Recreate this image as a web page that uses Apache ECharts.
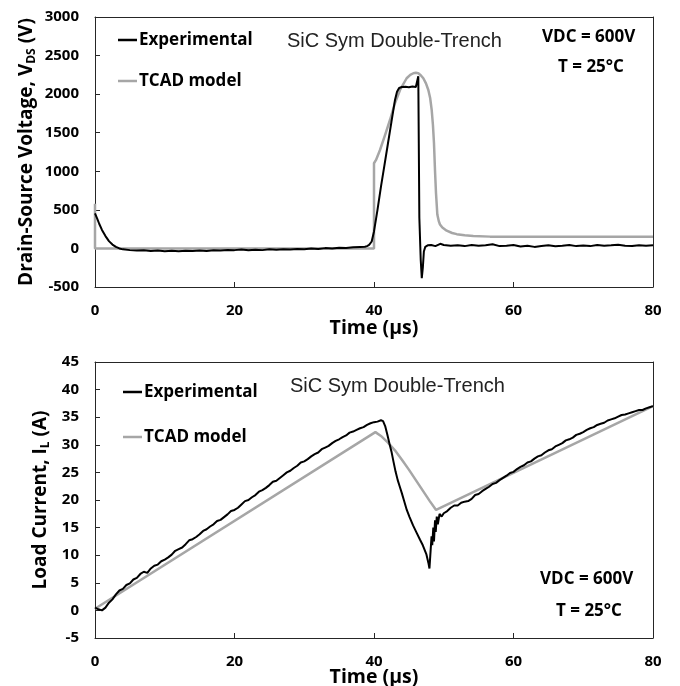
<!DOCTYPE html>
<html><head><meta charset="utf-8">
<script src="https://cdn.jsdelivr.net/npm/echarts@6/dist/echarts.min.js"></script>
<style>html,body{margin:0;padding:0;background:#fff}#c{width:680px;height:686px}</style>
</head><body><div id="c"></div>
<script>
// ---- data (time in µs) ----
const xTickStep = 20;
const vdsTicks = { min: -500, max: 3000, step: 500 };
const ilTicks = { min: -5, max: 45, step: 5 };

const vdsExperimental = [[0,455],[0.3,390],[0.6,320],[1,240],[1.5,160],[2,95],[2.5,50],[3,20],[3.5,0],[4,-12],[5,-22],[6,-28],[7,-25],[8,-32],[9,-28],[10,-35],[11,-30],[12,-38],[13,-30],[14,-34],[15,-26],[16,-32],[17,-24],[18,-28],[19,-20],[20,-22],[21,-15],[22,-25],[23,-18],[24,-22],[25,-12],[26,-18],[27,-10],[28,-15],[29,-6],[30,-12],[31,-2],[32,-8],[33,4],[34,0],[35,8],[36,6],[37,14],[38,20],[38.7,22],[39,30],[39.3,45],[39.67,90],[40,220],[40.5,500],[41,800],[41.5,1080],[42,1360],[42.5,1640],[43,1920],[43.3,2030],[43.6,2080],[44,2092],[44.5,2095],[45,2090],[45.5,2098],[46,2093],[46.2,2110],[46.35,2232],[46.5,400],[46.7,-150],[46.85,-385],[47,-250],[47.15,-40],[47.35,20],[47.7,40],[48.2,45],[48.8,30],[49.5,60],[50,45],[51,35],[52,40],[53,30],[54,45],[55,35],[56,40],[57,55],[58,30],[59,35],[60,45],[61,25],[62,35],[63,20],[64,30],[65,40],[66,28],[67,35],[68,45],[69,30],[70,38],[71,30],[72,45],[73,35],[74,40],[75,48],[76,35],[77,30],[78,42],[79,35],[80,40]];

const vdsTcad = [[0,580],[0,0],[40,0],[40,1104],[40.29,1147],[40.86,1276],[41.58,1470],[42.29,1665],[43,1882],[43.73,2054],[44.68,2206],[45.2,2250],[45.64,2271],[46,2276],[46.35,2271],[46.7,2245],[47.07,2206],[47.45,2140],[47.79,2054],[48.05,1950],[48.27,1795],[48.45,1600],[48.6,1363],[48.75,1000],[48.89,715],[49.08,440],[49.3,350],[49.46,310],[49.8,270],[50.42,230],[51.2,200],[51.86,185],[53,170],[54.24,161],[56.63,153],[60,150],[70,150],[80,150]];

const ilExperimental = [[0,0.5],[0.5,0.2],[1,0],[1.5,0.5],[2,1.4],[2.5,2],[3,2.9],[3.5,3.6],[4,3.9],[4.5,4.6],[5,4.9],[5.5,5.6],[6,5.9],[6.5,6.6],[7,7],[7.5,6.8],[8,7.6],[8.5,8.1],[9,8.3],[9.5,8.9],[10,9.2],[10.5,9.6],[11,10.1],[11.5,10.8],[12,11.1],[12.5,11.4],[13,12],[13.5,12.7],[14,12.9],[14.5,13.3],[15,13.8],[15.5,14.4],[16,14.7],[16.5,15.2],[17,15.6],[17.5,16.2],[18,16.4],[18.5,16.9],[19,17.4],[19.5,18],[20,18.2],[20.5,18.6],[21,19.2],[21.5,19.8],[22,20],[22.5,20.5],[23,20.9],[23.5,21.5],[24,21.8],[24.5,22.2],[25,22.7],[25.5,23.3],[26,23.5],[26.5,24],[27,24.5],[27.5,25],[28,25.3],[28.5,25.8],[29,26.2],[29.5,26.8],[30,27],[30.5,27.4],[31,27.9],[31.5,28.3],[32,28.6],[32.5,29.2],[33,29.5],[33.5,29.8],[34,30.3],[34.5,30.7],[35,31],[35.5,31.4],[36,31.7],[36.5,32.2],[37,32.4],[37.5,32.7],[38,33],[38.5,33.2],[39,33.6],[39.5,33.9],[40,34.1],[40.5,34.2],[41,34.45],[41.3,34.3],[41.6,33.4],[41.9,31.9],[42.2,30.3],[42.5,28.8],[42.8,26.9],[43.1,25.1],[43.4,23.6],[43.7,22.4],[44,21.2],[44.3,19.9],[44.7,18.2],[45.1,16.9],[45.6,15.4],[46.1,14.1],[46.6,12.8],[47,11.8],[47.5,10.2],[47.8,8.6],[47.95,7.6],[48.1,10.5],[48.25,13.4],[48.35,11.8],[48.5,15],[48.6,12.5],[48.75,16.3],[48.85,14.2],[49,17],[49.15,15.6],[49.4,17.5],[49.7,17],[50,17.6],[50.5,18],[51,18.6],[51.5,19],[52,19],[52.5,19.5],[53,19.7],[53.5,19.8],[54,20.2],[54.5,20.9],[55,21.1],[55.5,21.6],[56,22],[56.5,22.4],[57,22.9],[57.5,23.1],[58,23.6],[58.5,24],[59,24.4],[59.5,24.9],[60,25.1],[60.5,25.6],[61,26],[61.5,26.3],[62,26.8],[62.5,27],[63,27.5],[63.5,27.9],[64,28.1],[64.5,28.6],[65,29],[65.5,29.2],[66,29.7],[66.5,30],[67,30.3],[67.5,30.8],[68,31],[68.5,31.3],[69,31.8],[69.5,32],[70,32.3],[70.5,32.7],[71,33],[71.5,33.2],[72,33.6],[72.5,33.8],[73,34],[73.5,34.4],[74,34.6],[74.5,34.8],[75,35.1],[75.5,35.4],[76,35.5],[76.5,35.7],[77,35.9],[77.5,36.1],[78,36.3],[78.5,36.3],[79,36.6],[79.5,36.8],[80,37]];

const ilTcad = [[0,0.3],[40.2,32.3],[41,31.6],[42,30.4],[43,29],[44,27.3],[45,25.5],[46,23.6],[47,21.7],[48,19.8],[48.9,18.2],[80,37]];

const seriesNames = ['Experimental', 'TCAD model'];
const titleText = 'SiC Sym Double-Trench';
const condText = ['VDC = 600V', 'T = 25°C'];

// ---- chart ----
const F = '"Open Sans", sans-serif';
const AX = '#262626';
const lbl = { fontFamily: F, fontWeight: 'bold', fontSize: 15, color: '#000' };
const plain = v => String(v);

function xAx(i, gap) {
  return { type: 'value', gridIndex: i, min: 0, max: 80, interval: xTickStep,
    name: 'Time (µs)', nameLocation: 'middle', nameGap: gap, nameMoveOverlap: false,
    nameTextStyle: { fontFamily: F, fontWeight: 'bold', fontSize: 19.5, color: '#000' },
    axisLine: { show: true, onZero: false, lineStyle: { color: AX, width: 1 } },
    axisTick: { show: true, inside: true, length: 5, lineStyle: { color: AX } },
    axisLabel: Object.assign({ margin: 16, formatter: plain }, lbl),
    splitLine: { show: false } };
}
function yAx(i, t, name, gap) {
  return { type: 'value', gridIndex: i, min: t.min, max: t.max, interval: t.step,
    name: name, nameLocation: 'middle', nameGap: gap, nameRotate: 90, nameMoveOverlap: false,
    nameTextStyle: { rich: {
      a: { fontFamily: F, fontWeight: 'bold', fontSize: 19, color: '#000' },
      s: { fontFamily: F, fontWeight: 'bold', fontSize: 12, color: '#000', padding: [10, 0, 0, 0] } } },
    axisLine: { show: true, onZero: false, lineStyle: { color: AX, width: 1 } },
    axisTick: { show: true, inside: true, length: 5, lineStyle: { color: AX } },
    axisLabel: Object.assign({ margin: 16, formatter: plain }, lbl),
    splitLine: { show: false } };
}
function frameX(i) {
  return { type: 'value', gridIndex: i, position: 'top', min: 0, max: 80,
    axisLine: { show: true, onZero: false, lineStyle: { color: AX, width: 1 } },
    axisTick: { show: false }, axisLabel: { show: false }, splitLine: { show: false } };
}
function frameY(i, t) {
  return { type: 'value', gridIndex: i, position: 'right', min: t.min, max: t.max,
    axisLine: { show: true, onZero: false, lineStyle: { color: AX, width: 1 } },
    axisTick: { show: false }, axisLabel: { show: false }, splitLine: { show: false } };
}
function legend(name, left, top) {
  return { data: [name], left: left, top: top, orient: 'vertical', padding: 0,
    icon: 'rect', itemWidth: 19, itemHeight: 2.5,
    textStyle: { fontFamily: F, fontWeight: 'bold', fontSize: 17, color: '#000', lineHeight: 20, padding: [0, 0, 0, -3] } };
}
function txt(text, x, y, opt) {
  return { type: 'text', x: x, y: y, silent: true,
    style: Object.assign({ text: text, fill: '#000', verticalAlign: 'middle', align: 'left' }, opt) };
}
const bold = { fontFamily: F, fontWeight: 'bold', fontSize: 17 };
const norm = { fontFamily: '"Liberation Sans", Arial, sans-serif', fontWeight: 'normal', fontSize: 20, fill: '#222' };

const option = {
  animation: false,
  backgroundColor: '#fff',
  grid: [
    { left: 95, top: 17, width: 558, height: 270, outerBoundsMode: 'none', containLabel: false },
    { left: 95, top: 362, width: 558, height: 276, outerBoundsMode: 'none', containLabel: false }
  ],
  xAxis: [xAx(0, 31), xAx(1, 29), frameX(0), frameX(1)],
  yAxis: [
    yAx(0, vdsTicks, '{a|Drain-Source Voltage, V}{s|DS}{a| (V)}', 57),
    yAx(1, ilTicks, '{a|Load Current, I}{s|L}{a| (A)}', 43),
    frameY(0, vdsTicks), frameY(1, ilTicks)
  ],
  legend: [
    legend(seriesNames[0], 118, 30), legend(seriesNames[1], 118, 71),
    legend(seriesNames[0], 123, 382), legend(seriesNames[1], 123, 427)
  ],
  graphic: [
    txt(titleText, 287, 41, norm),
    txt(condText[0], 542, 37, bold),
    txt(condText[1], 558, 67, bold),
    txt(titleText, 290, 386, norm),
    txt(condText[0], 540, 579, bold),
    txt(condText[1], 556, 611, bold)
  ],
  series: [
    { name: seriesNames[1], type: 'line', xAxisIndex: 0, yAxisIndex: 0, data: vdsTcad, symbol: 'none',
      itemStyle: { color: '#a6a6a6' }, lineStyle: { color: '#a6a6a6', width: 2.5 } },
    { name: seriesNames[0], type: 'line', xAxisIndex: 0, yAxisIndex: 0, data: vdsExperimental, symbol: 'none',
      itemStyle: { color: '#000' }, lineStyle: { color: '#000', width: 2 } },
    { name: seriesNames[1], type: 'line', xAxisIndex: 1, yAxisIndex: 1, data: ilTcad, symbol: 'none',
      itemStyle: { color: '#a6a6a6' }, lineStyle: { color: '#a6a6a6', width: 2.5 } },
    { name: seriesNames[0], type: 'line', xAxisIndex: 1, yAxisIndex: 1, data: ilExperimental, symbol: 'none',
      itemStyle: { color: '#000' }, lineStyle: { color: '#000', width: 2 } }
  ]
};
const chart = echarts.init(document.getElementById('c'), null, { renderer: 'canvas' });
chart.setOption(option);
</script></body></html>
